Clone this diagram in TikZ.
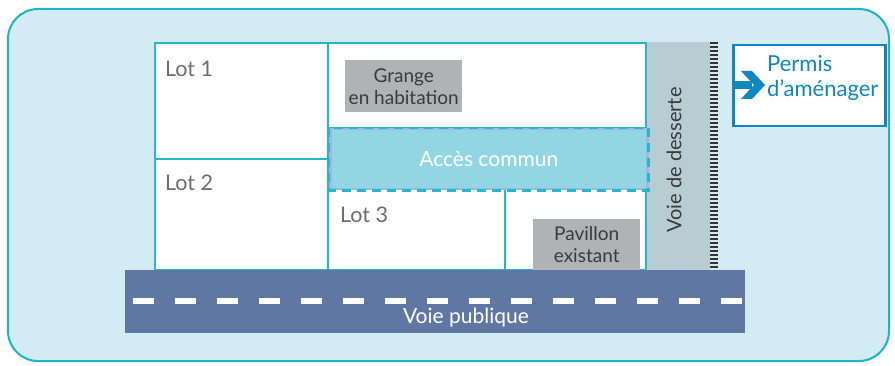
\documentclass[tikz,border=0pt]{standalone}
\usepackage{fontspec}
\setmainfont{Lato}
\definecolor{bgblue}{HTML}{D3ECF3}
\definecolor{frame}{HTML}{1AB4CC}
\definecolor{lotline}{HTML}{22B8CF}
\definecolor{greybox}{HTML}{B1B2B4}
\definecolor{accfill}{HTML}{92D5E3}
\definecolor{accline}{HTML}{9FB9DD}
\definecolor{desserte}{HTML}{B7CDD3}
\definecolor{road}{HTML}{6177A3}
\definecolor{permis}{HTML}{0F87C3}
\definecolor{lottext}{HTML}{6D6E70}
\definecolor{darktext}{HTML}{3A3A3A}
\tikzset{
  lotbox/.style={draw=lotline, fill=white, line width=1.5pt, anchor=north west, inner sep=0pt, outer sep=0pt},
  lotlabel/.style={anchor=base west, text=lottext, font=\fontsize{21.5}{25}\selectfont, inner sep=0pt},
  greylabel/.style={fill=greybox, text=darktext, align=center, inner sep=0pt, anchor=north west, font=\fontsize{19}{22}\selectfont},
  hatch/.style={draw=black!80, line width=8pt, dash pattern=on 1.6pt off 2.4pt}
}
\begin{document}
\begin{tikzpicture}[x=1pt,y=-1pt]
\useasboundingbox (0,0) rectangle (895,366);
% background
\node[draw=frame, fill=bgblue, line width=2pt, rounded corners=30pt, minimum width=881, minimum height=352, anchor=north west, inner sep=0pt] (bg) at (7,8) {};
% voie de desserte
\node[fill=desserte, minimum width=63, minimum height=228, anchor=north west, inner sep=0pt] (vdd) at (647,42) {};
\node[rotate=90, text=darktext, font=\fontsize{20}{24}\selectfont] (vddtext) at (674,160) {Voie de desserte};
\coordinate (hatchtop) at (714,42);
\coordinate (hatchbot) at (714,271);
\draw[hatch] (hatchtop) -- (hatchbot);
% lots
\node[lotbox, minimum width=173, minimum height=116] (lot1) at (155,43) {};
\node[lotbox, minimum width=173, minimum height=111] (lot2) at (155,159) {};
\node[lotbox, minimum width=318, minimum height=85] (lotg) at (328,43) {};
\node[lotbox, minimum width=177, minimum height=82] (lot3) at (328,188) {};
\node[lotbox, minimum width=141, minimum height=82] (lotp) at (505,188) {};
\node[lotlabel] (l1) at (165,77) {Lot 1};
\node[lotlabel] (l2) at (165,191) {Lot 2};
\node[lotlabel] (l3) at (340,223) {Lot 3};
% grey boxes
\node[greylabel, minimum width=117, minimum height=52] (grange) at (345,60) {Grange\\en habitation};
\node[greylabel, minimum width=107, minimum height=51] (pav) at (533,219) {Pavillon\\existant};
% acces commun
\node[fill=accfill, draw=accline, line width=2.5pt, minimum width=317, minimum height=60, anchor=north west, inner sep=0pt] (acc) at (329,128) {};
\draw[lotline, line width=2.5pt, dash pattern=on 9pt off 6pt] (acc.north west) rectangle (acc.south east);
\node[text=white, font=\fontsize{21}{25}\selectfont] (acctext) at (acc.center) {Accès commun};
% voie publique
\node[fill=road, minimum width=620, minimum height=63, anchor=north west, inner sep=0pt] (vp) at (125,270) {};
\coordinate (dashl) at (132.6,301);
\coordinate (dashr) at (741.6,301);
\draw[white, line width=5.5pt, dash pattern=on 21pt off 21pt] (dashl) -- (dashr);
\node[text=white, font=\fontsize{21}{25}\selectfont] (vptext) at (466,318) {Voie publique};
% permis
\node[draw=permis, fill=white, line width=2.5pt, minimum width=152, minimum height=81, anchor=north west, inner sep=0pt] (permis) at (732,44) {};
\node[text=permis, align=left, anchor=north west, font=\fontsize{22}{25}\selectfont, inner sep=0pt] (permtext) at (767,55) {Permis\\d’aménager};
\fill[permis] (permis.west |- 0,81) -- (752,81) -- (752,89) -- (permis.west |- 0,89) -- cycle;
\fill[permis] (741,71) -- (752,71) -- (765,85) -- (752,99) -- (741,99) -- (754,85) -- cycle;
\end{tikzpicture}
\end{document}
